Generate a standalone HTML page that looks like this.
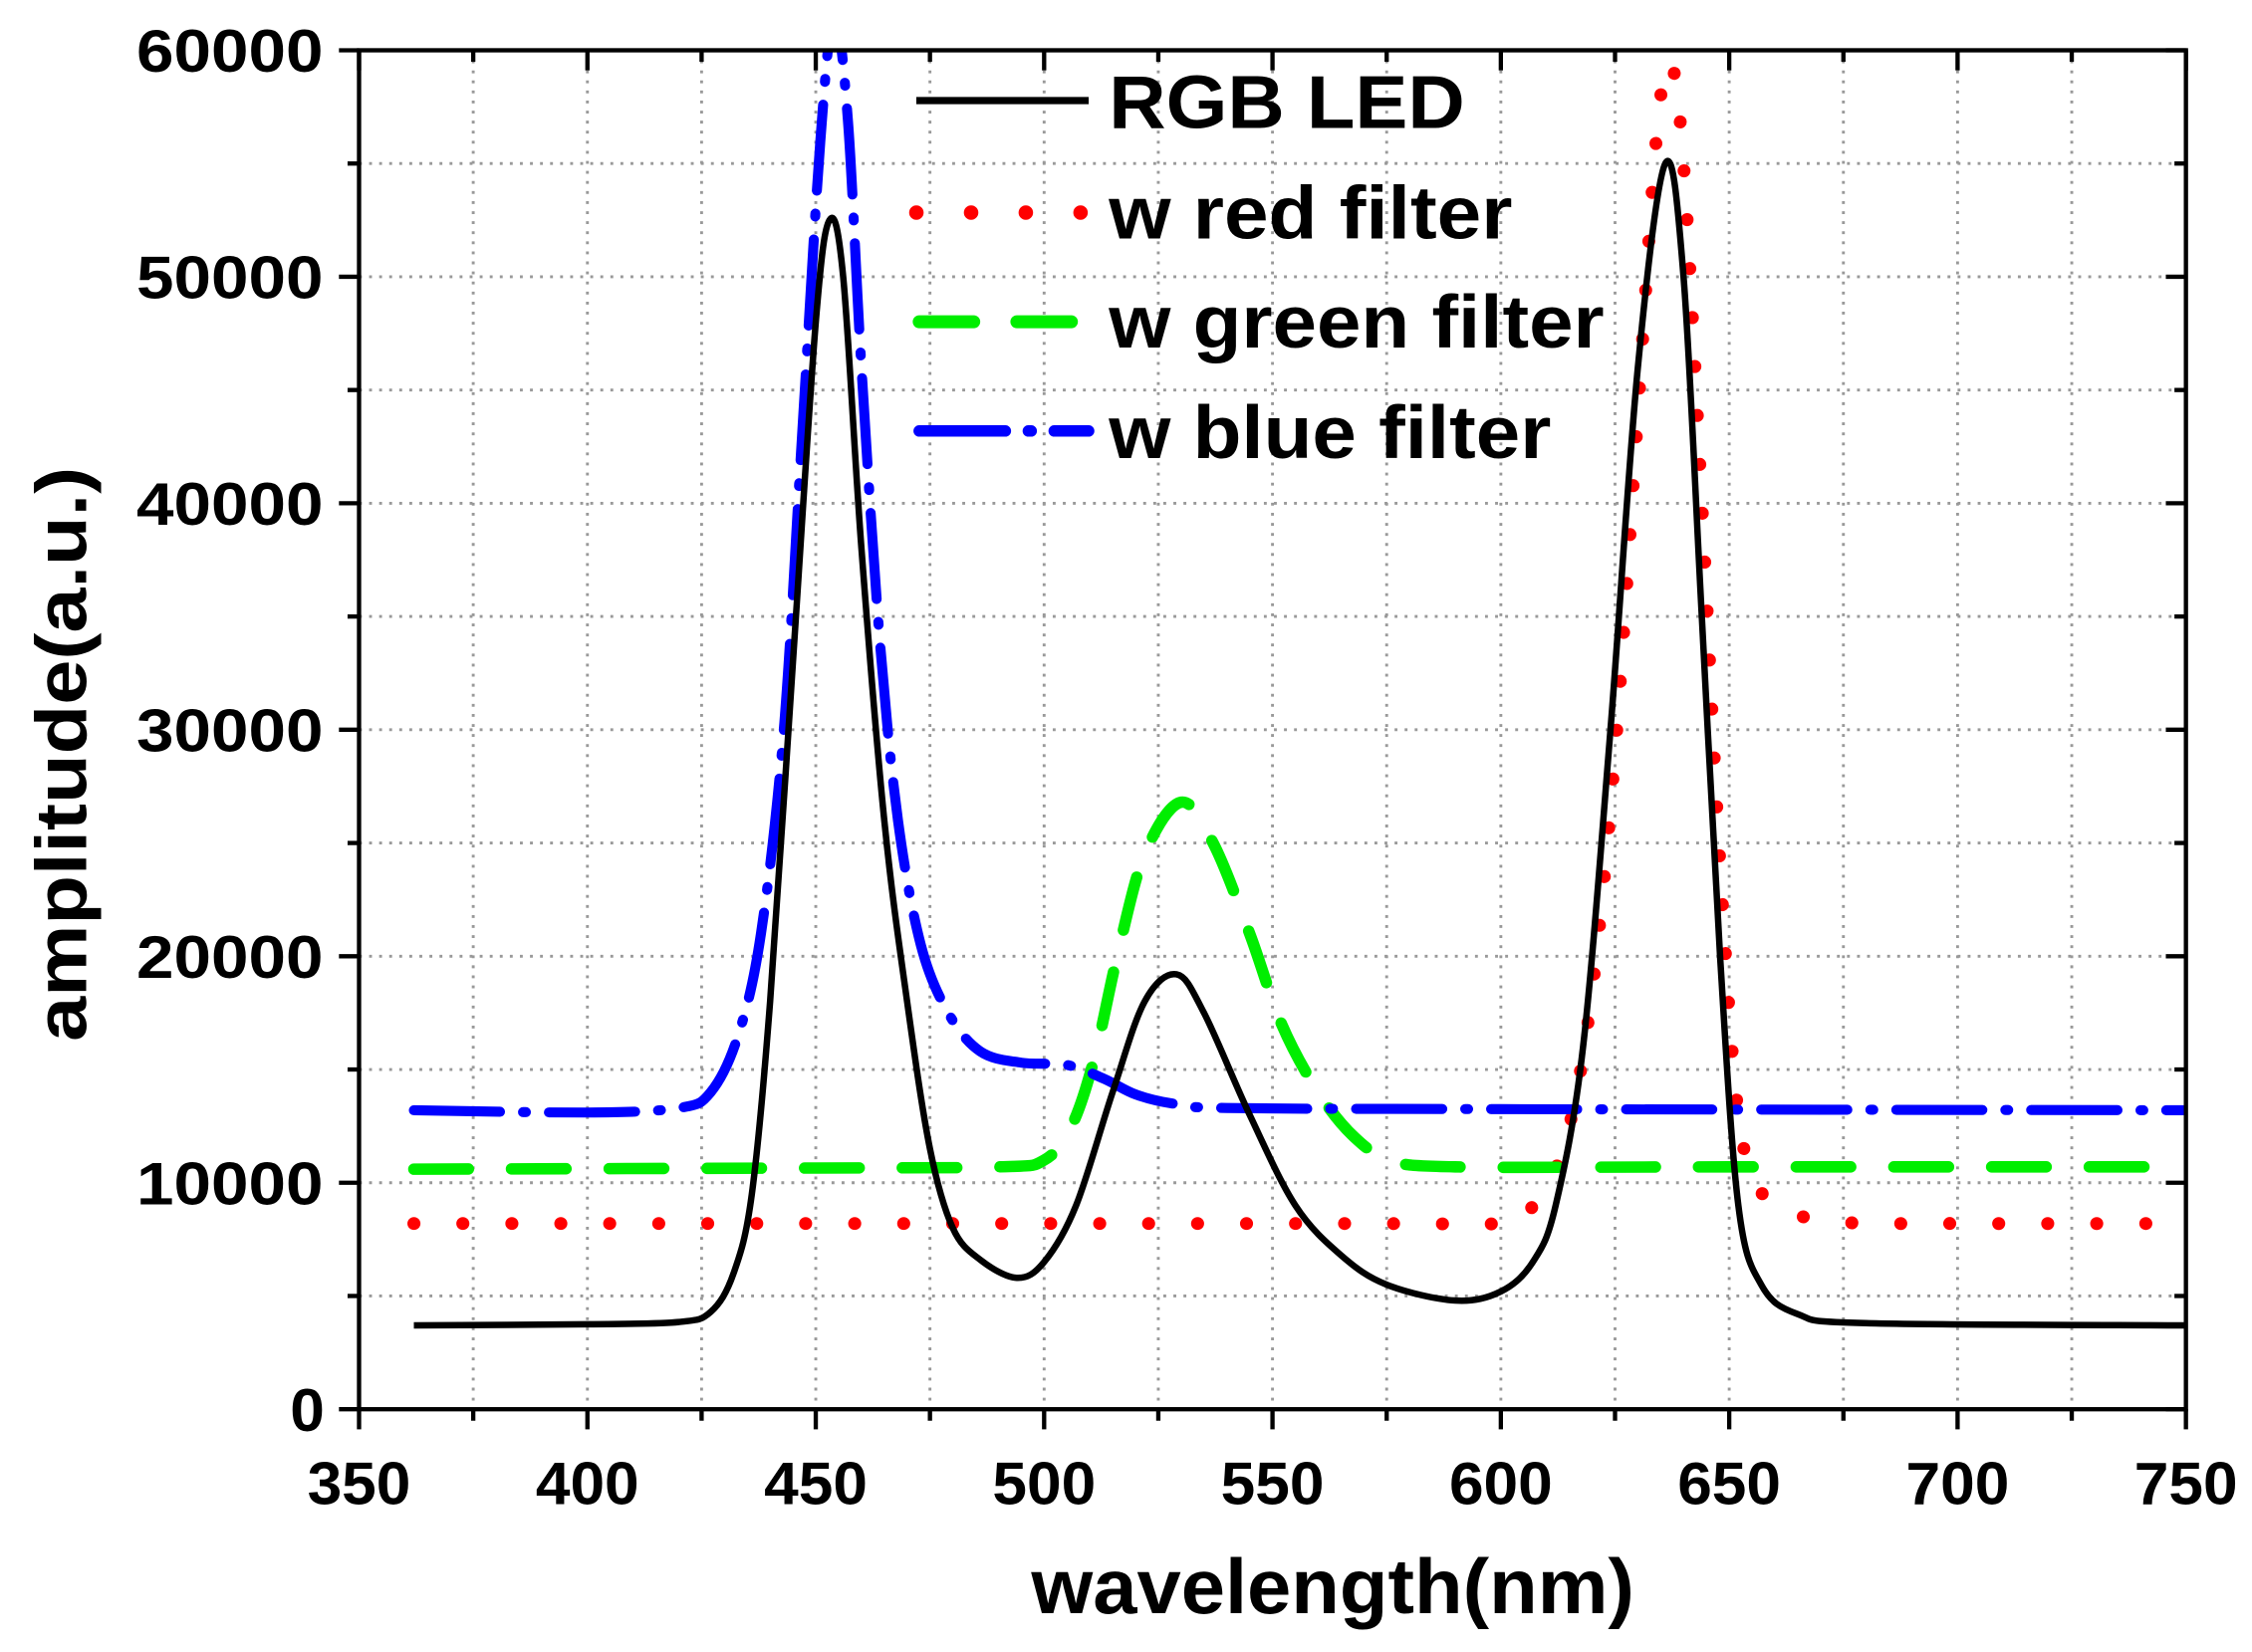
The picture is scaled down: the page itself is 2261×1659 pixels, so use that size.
<!DOCTYPE html>
<html><head><meta charset="utf-8"><style>
html,body{margin:0;padding:0;background:#fff;}
svg{display:block;}
text{font-family:"Liberation Sans",Arial,sans-serif;font-weight:bold;fill:#000;}
</style></head><body>
<svg id="s" width="2261" height="1659" viewBox="0 0 1568 1150" preserveAspectRatio="none" xmlns="http://www.w3.org/2000/svg">
<g id="grid" stroke="#999" stroke-width="2" stroke-dasharray="2,5"></g>
<g id="curves" fill="none"></g>
<rect x="250" y="35" width="1272" height="946" fill="none" stroke="#000" stroke-width="3"/>
<g id="ticks" stroke="#000" stroke-width="3"></g>
<g id="labels" font-size="42"></g>
<text x="718" y="1123" font-size="54" textLength="420" lengthAdjust="spacingAndGlyphs">wavelength(nm)</text>
<text transform="translate(60,725) rotate(-90)" font-size="50" textLength="400" lengthAdjust="spacingAndGlyphs">amplitude(a.u.)</text>
<g font-size="52">
<line x1="638" y1="70" x2="758" y2="70" stroke="#000" stroke-width="5"/>
<text x="772" y="89" textLength="248" lengthAdjust="spacingAndGlyphs">RGB LED</text>
<line x1="638" y1="148" x2="758" y2="148" stroke="#f00" stroke-width="10" stroke-linecap="round" stroke-dasharray="0.1,38"/>
<text x="772" y="166" textLength="281" lengthAdjust="spacingAndGlyphs">w red filter</text>
<line x1="640" y1="224" x2="756" y2="224" stroke="#0e0" stroke-width="9" stroke-linecap="round" stroke-dasharray="38,30"/>
<text x="772" y="242" textLength="345" lengthAdjust="spacingAndGlyphs">w green filter</text>
<path d="M640 300 H700 M716 300 H718 M734 300 H758" stroke="#00f" stroke-width="8" stroke-linecap="round"/>
<text x="772" y="319" textLength="308" lengthAdjust="spacingAndGlyphs">w blue filter</text>
</g>
</svg>
<script>
var X=function(w){return 250+(w-350)*159/50;}, Y=function(v){return 981-v*946/60000;};
var ns="http://www.w3.org/2000/svg";
function el(p,t,a){var e=document.createElementNS(ns,t);for(var k in a)e.setAttribute(k,a[k]);p.appendChild(e);return e;}
var g=document.getElementById('grid'),tk=document.getElementById('ticks'),lb=document.getElementById('labels');
for(var w=375;w<750;w+=25){el(g,'line',{x1:X(w),y1:35,x2:X(w),y2:981});}
for(var v=5000;v<60000;v+=5000){el(g,'line',{x1:250,y1:Y(v),x2:1522,y2:Y(v)});}
for(var w=350;w<=750;w+=25){var L=(w%50==0)?14:8;el(tk,'line',{x1:X(w),y1:981,x2:X(w),y2:981+L});el(tk,'line',{x1:X(w),y1:35,x2:X(w),y2:35+L});
 if(w%50==0){var t=el(lb,'text',{x:X(w)-36,y:1047,textLength:72,lengthAdjust:'spacingAndGlyphs'});t.textContent=w;}}
for(var v=0;v<=60000;v+=5000){var L=(v%10000==0)?14:8;el(tk,'line',{x1:250-L,y1:Y(v),x2:250,y2:Y(v)});el(tk,'line',{x1:1522-L,y1:Y(v),x2:1522,y2:Y(v)});
 if(v%10000==0){var a={x:226,y:Y(v)+15,'text-anchor':'end'};if(v>0){a.x=95;a['text-anchor']='start';a.textLength=130;a.lengthAdjust='spacingAndGlyphs';}else{a.x=202;a['text-anchor']='start';a.textLength=24;a.lengthAdjust='spacingAndGlyphs';}
 var t=el(lb,'text',a);t.textContent=v;}}
function path(pts){var p=pts.map(function(a){return [X(a[0]),Y(a[1])];});var d='M'+p[0][0]+' '+p[0][1];
 for(var i=0;i<p.length-1;i++){var p0=p[i-1]||p[i],p1=p[i],p2=p[i+1],p3=p[i+2]||p2;
  d+=' C'+(p1[0]+(p2[0]-p0[0])/6)+' '+(p1[1]+(p2[1]-p0[1])/6)+' '+(p2[0]-(p3[0]-p1[0])/6)+' '+(p2[1]-(p3[1]-p1[1])/6)+' '+p2[0]+' '+p2[1];}
 return d;}
var c=document.getElementById('curves');
var clip=el(c,'clipPath',{id:'cp'});el(clip,'rect',{x:250,y:35,width:1272,height:946});
var red=[[362,8200],[560,8200],[600,8200],[605,8600],[610,9800],[615,12500],[620,18500],[625,29000],[630,44000],[634,56000],[637,59500],[640,55000],[644,40000],[648,24000],[652,13000],[657,9600],[663,8700],[675,8250],[700,8200],[750,8200]];
var green=[[362,10600],[450,10650],[490,10700],[500,11000],[506,12500],[511,15500],[516,20000],[522,24500],[530,26800],[537,25000],[545,21000],[552,17000],[560,14000],[568,12000],[576,11000],[590,10700],[650,10700],[750,10700]];
var blue=[[362,13200],[400,13100],[420,13300],[427,14000],[433,16500],[438,21000],[443,30000],[447,43000],[451,56000],[454,61500],[457,57000],[460,46000],[464,34000],[468,26000],[473,20500],[479,17500],[486,15800],[495,15300],[505,15200],[513,14600],[520,13900],[528,13500],[540,13300],[600,13250],[750,13200]];
var black=[[362,3700],[400,3750],[420,3850],[427,4300],[432,6000],[436,9500],[440,18000],[445,33000],[450,48000],[453,52500],[456,50000],[460,38000],[465,26000],[470,18000],[475,11500],[480,8000],[486,6600],[494,5800],[500,6500],[507,9000],[515,14000],[522,18000],[529,19200],[535,17500],[545,13000],[555,9000],[565,6800],[575,5500],[590,4800],[600,5200],[607,6500],[612,9000],[618,16000],[624,30000],[630,46000],[636,55000],[640,50000],[644,35000],[648,20000],[652,9000],[657,5500],[665,4200],[680,3800],[750,3700]];
el(c,'path',{d:path(red),stroke:'#f00','stroke-width':9,'stroke-linecap':'round','stroke-dasharray':'0.1,34','clip-path':'url(#cp)'});
el(c,'path',{d:path(green),stroke:'#0e0','stroke-width':8,'stroke-linecap':'round','stroke-dasharray':'38,30','clip-path':'url(#cp)'});
el(c,'path',{d:path(blue),stroke:'#00f','stroke-width':7,'stroke-linecap':'round','stroke-dasharray':'60,16,2,16','clip-path':'url(#cp)'});
el(c,'path',{d:path(black),stroke:'#000','stroke-width':4.5,'clip-path':'url(#cp)'});
</script>
</body></html>
